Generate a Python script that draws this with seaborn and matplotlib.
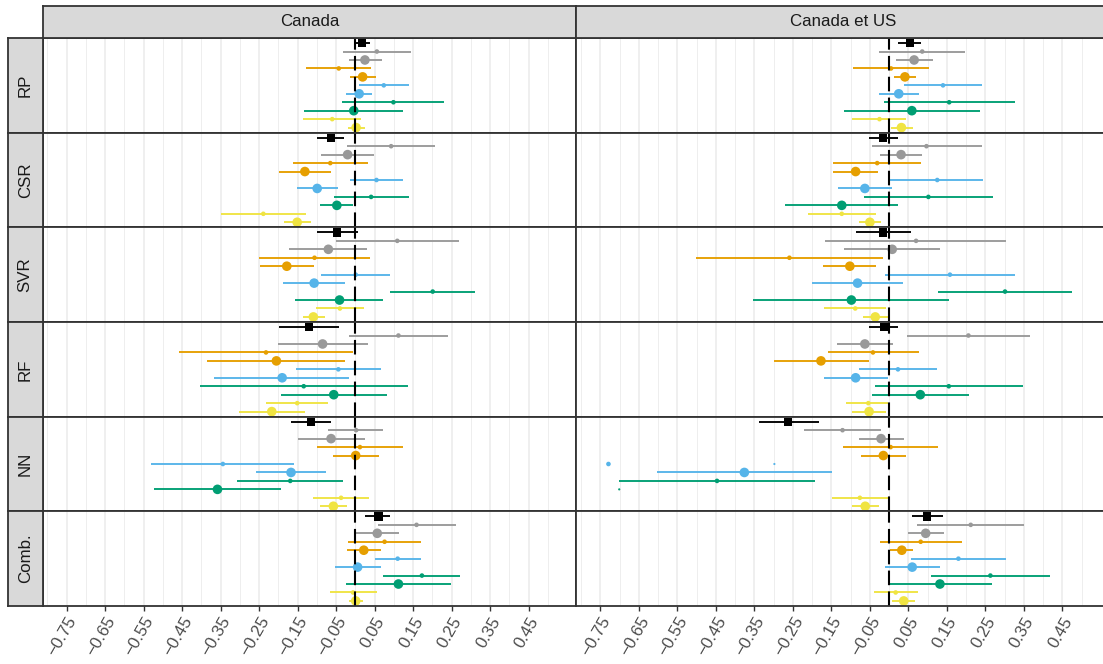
import numpy as np
import pandas as pd
import matplotlib
matplotlib.use("Agg")
import matplotlib.pyplot as plt
import seaborn as sns

# ---------------------------------------------------------------- data
regions = ["Canada", "Canada et US"]
methods = ["RP", "CSR", "SVR", "RF", "NN", "Comb."]

# one entry per horizontal row of a panel, top to bottom
series_ids = ["K", "G1", "G2", "O1", "O2", "B1", "B2", "V1", "V2", "J1", "J2"]
series_colors = ["#000000", "#999999", "#999999", "#E69F00", "#E69F00",
                 "#56B4E9", "#56B4E9", "#009E73", "#009E73", "#F0E442", "#F0E442"]
series_markers = ["s", "o", "o", "o", "o", "o", "o", "o", "o", "o", "o"]
series_sizes = [36, 11, 48, 11, 48, 11, 48, 11, 48, 11, 48]

# (estimate, lower, upper) for each series
ca_rp = [(0.018, -0.004, 0.037), (0.056, -0.033, 0.145), (0.025, -0.017, 0.069),
         (-0.043, -0.127, 0.042), (0.019, -0.014, 0.054), (0.074, 0.010, 0.140),
         (0.010, -0.024, 0.044), (0.099, -0.034, 0.231), (-0.004, -0.132, 0.124),
         (-0.060, -0.135, 0.016), (0.002, -0.019, 0.026)]
ca_csr = [(-0.063, -0.099, -0.029), (0.093, -0.021, 0.207), (-0.020, -0.089, 0.048),
          (-0.065, -0.161, 0.032), (-0.131, -0.198, -0.063), (0.055, -0.014, 0.123),
          (-0.099, -0.152, -0.045), (0.041, -0.055, 0.139), (-0.048, -0.091, -0.005),
          (-0.239, -0.348, -0.129), (-0.151, -0.186, -0.115)]
ca_svr = [(-0.048, -0.100, 0.006), (0.109, -0.049, 0.269), (-0.070, -0.172, 0.031),
          (-0.106, -0.250, 0.038), (-0.178, -0.247, -0.107), (0.001, -0.088, 0.091),
          (-0.107, -0.188, -0.026), (0.201, 0.089, 0.311), (-0.041, -0.156, 0.072),
          (-0.040, -0.101, 0.022), (-0.109, -0.137, -0.080)]
ca_rf = [(-0.120, -0.197, -0.042), (0.112, -0.016, 0.241), (-0.085, -0.201, 0.033),
         (-0.232, -0.458, -0.005), (-0.205, -0.385, -0.026), (-0.044, -0.155, 0.067),
         (-0.190, -0.367, -0.016), (-0.134, -0.404, 0.137), (-0.056, -0.194, 0.082),
         (-0.151, -0.231, -0.070), (-0.217, -0.303, -0.130)]
ca_nn = [(-0.115, -0.167, -0.063), (0.002, -0.070, 0.072), (-0.063, -0.149, 0.024),
         (0.012, -0.099, 0.125), (0.001, -0.058, 0.062), (-0.344, -0.530, -0.159),
         (-0.167, -0.259, -0.076), (-0.169, -0.307, -0.033), (-0.358, -0.522, -0.194),
         (-0.037, -0.109, 0.035), (-0.057, -0.093, -0.021)]
ca_comb = [(0.060, 0.026, 0.091), (0.159, 0.058, 0.262), (0.057, 0.001, 0.113),
           (0.076, -0.019, 0.171), (0.022, -0.021, 0.066), (0.110, 0.050, 0.171),
           (0.006, -0.054, 0.066), (0.173, 0.072, 0.272), (0.112, -0.024, 0.248),
           (-0.006, -0.065, 0.056), (0.001, -0.017, 0.020)]

us_rp = [(0.054, 0.024, 0.082), (0.086, -0.026, 0.197), (0.065, 0.018, 0.113),
         (0.005, -0.095, 0.104), (0.041, 0.012, 0.069), (0.140, 0.039, 0.242),
         (0.025, -0.026, 0.077), (0.156, -0.014, 0.327), (0.059, -0.117, 0.237),
         (-0.025, -0.096, 0.045), (0.032, 0.005, 0.062)]
us_csr = [(-0.016, -0.052, 0.023), (0.097, -0.045, 0.240), (0.031, -0.023, 0.085),
          (-0.031, -0.145, 0.084), (-0.087, -0.145, -0.029), (0.125, 0.003, 0.243),
          (-0.063, -0.132, 0.008), (0.102, -0.064, 0.269), (-0.123, -0.270, 0.022),
          (-0.123, -0.211, -0.034), (-0.050, -0.078, -0.021)]
us_svr = [(-0.016, -0.087, 0.057), (0.070, -0.166, 0.303), (0.008, -0.116, 0.131),
          (-0.259, -0.501, -0.017), (-0.102, -0.172, -0.033), (0.158, -0.010, 0.327),
          (-0.082, -0.200, 0.037), (0.301, 0.127, 0.475), (-0.098, -0.353, 0.156),
          (-0.088, -0.169, -0.008), (-0.036, -0.067, -0.004)]
us_rf = [(-0.012, -0.052, 0.024), (0.206, 0.046, 0.366), (-0.063, -0.136, 0.010),
         (-0.042, -0.158, 0.077), (-0.177, -0.299, -0.053), (0.023, -0.077, 0.124),
         (-0.087, -0.170, -0.003), (0.155, -0.037, 0.347), (0.081, -0.044, 0.207),
         (-0.054, -0.111, -0.003), (-0.052, -0.097, -0.008)]
us_nn = [(-0.263, -0.339, -0.183), (-0.121, -0.221, -0.022), (-0.021, -0.078, 0.039),
         (0.004, -0.121, 0.128), (-0.015, -0.072, 0.044), (-0.729, np.nan, np.nan),
         (-0.376, -0.603, -0.148), (-0.447, -0.701, -0.193), (np.nan, np.nan, np.nan),
         (-0.076, -0.149, -0.003), (-0.062, -0.097, -0.026)]
us_comb = [(0.098, 0.060, 0.139), (0.212, 0.073, 0.351), (0.095, 0.049, 0.143),
           (0.082, -0.024, 0.190), (0.033, 0.002, 0.063), (0.180, 0.057, 0.303),
           (0.060, -0.011, 0.132), (0.263, 0.109, 0.418), (0.132, 0.000, 0.268),
           (0.017, -0.040, 0.074), (0.038, 0.008, 0.068)]

# truncated interval ends left at the edge of the x range
stub_region = ["Canada et US", "Canada et US"]
stub_method = ["NN", "NN"]
stub_series = ["B1", "V2"]
stub_x = [-0.298, -0.701]

tick_values = [-0.75, -0.65, -0.55, -0.45, -0.35, -0.25, -0.15,
               -0.05, 0.05, 0.15, 0.25, 0.35, 0.45]
tick_labels = ["\u22120.75", "\u22120.65", "\u22120.55", "\u22120.45", "\u22120.35",
               "\u22120.25", "\u22120.15", "\u22120.05", "0.05", "0.15", "0.25",
               "0.35", "0.45"]

panels = {
    ("Canada", "RP"): ca_rp, ("Canada", "CSR"): ca_csr, ("Canada", "SVR"): ca_svr,
    ("Canada", "RF"): ca_rf, ("Canada", "NN"): ca_nn, ("Canada", "Comb."): ca_comb,
    ("Canada et US", "RP"): us_rp, ("Canada et US", "CSR"): us_csr,
    ("Canada et US", "SVR"): us_svr, ("Canada et US", "RF"): us_rf,
    ("Canada et US", "NN"): us_nn, ("Canada et US", "Comb."): us_comb,
}

rows = []
for (reg, met), vals in panels.items():
    for k, (est, lo, hi) in enumerate(vals):
        rows.append(dict(region=reg, method=met, series=series_ids[k],
                         row=k + 1, est=est, lo=lo, hi=hi))
df = pd.DataFrame(rows)

stubs = pd.DataFrame(dict(region=stub_region, method=stub_method,
                          series=stub_series, x=stub_x))
stubs["row"] = stubs["series"].map({s: i + 1 for i, s in enumerate(series_ids)})

palette = dict(zip(series_ids, series_colors))
markers = dict(zip(series_ids, series_markers))
sizes = dict(zip(series_ids, series_sizes))

# ---------------------------------------------------------------- style
sns.set_theme(style="white")
plt.rcParams["font.family"] = ["Liberation Sans", "DejaVu Sans"]

W, H, DPI = 1103, 664, 100
fig = plt.figure(figsize=(W / DPI, H / DPI), dpi=DPI)
fig.patch.set_facecolor("white")

x_left = 42.5          # left edge of the panel block (px)
px_per_unit = 385.0
xlim = (-0.8125, 0.574)
panel_w = (xlim[1] - xlim[0]) * px_per_unit
top = 38.0
panel_h = (606.0 - top) / len(methods)
strip_top = 6.0
strip_left = 8.0

border = "#333333"
strip_fill = "#D9D9D9"
grid_col = "#EBEBEB"


def fig_rect(x0, y0, w, h):
    return [x0 / W, 1 - (y0 + h) / H, w / W, h / H]


def strip(rect, text, rotation=0):
    sax = fig.add_axes(fig_rect(*rect))
    sax.set_facecolor(strip_fill)
    sax.set_xticks([])
    sax.set_yticks([])
    for sp in sax.spines.values():
        sp.set_color(border)
        sp.set_linewidth(1.3)
    sax.text(0.5, 0.5, text, transform=sax.transAxes, ha="center", va="center",
             rotation=rotation, fontsize=12.2, color="#1A1A1A")
    return sax


major = np.array(tick_values)
minor = np.round(np.arange(-0.80, 0.56, 0.1), 2)

for i, met in enumerate(methods):
    for j, reg in enumerate(regions):
        ax = fig.add_axes(fig_rect(x_left + j * panel_w, top + i * panel_h,
                                   panel_w, panel_h))
        ax.set_facecolor("white")
        ax.set_xlim(*xlim)
        ax.set_ylim(11.6, 0.4)

        ax.set_xticks(major)
        ax.set_xticks(minor, minor=True)
        ax.grid(which="major", axis="x", color=grid_col, lw=1.15, zorder=0)
        ax.grid(which="minor", axis="x", color=grid_col, lw=0.6, zorder=0)
        ax.grid(which="major", axis="y", visible=False)
        ax.set_yticks([])
        ax.tick_params(axis="x", which="minor", length=0)
        ax.set_axisbelow(True)

        sub = df[(df.region == reg) & (df.method == met)]
        seg = sub.dropna(subset=["lo", "hi"])
        for _, r in seg.iterrows():
            ax.hlines(r["row"], r["lo"], r["hi"], color=palette[r["series"]],
                      lw=1.35, capstyle="butt", zorder=2)

        pts = sub.dropna(subset=["est"])
        sns.scatterplot(data=pts, x="est", y="row", hue="series", style="series",
                        size="series", palette=palette, markers=markers,
                        sizes=sizes, hue_order=series_ids, style_order=series_ids,
                        size_order=series_ids, linewidth=0, legend=False,
                        ax=ax, zorder=3)

        st = stubs[(stubs.region == reg) & (stubs.method == met)]
        if len(st):
            ax.scatter(st["x"], st["row"], s=2.5,
                       c=[palette[s] for s in st["series"]], linewidths=0, zorder=3)

        ax.axvline(0, color="black", lw=1.5, dashes=(7, 3), zorder=5)

        ax.set_xlabel("")
        ax.set_ylabel("")
        for sp in ax.spines.values():
            sp.set_color(border)
            sp.set_linewidth(1.3)
            sp.set_zorder(6)

        if i == len(methods) - 1:
            ax.tick_params(axis="x", which="major", length=3.5, width=1.0,
                           color=border, pad=2.5, labelsize=12.2,
                           labelcolor="#4D4D4D", bottom=True)
            ax.set_xticklabels(tick_labels)
            for lab in ax.get_xticklabels():
                lab.set_rotation(60)
                lab.set_ha("right")
                lab.set_va("top")
                lab.set_rotation_mode("anchor")
        else:
            ax.tick_params(axis="x", which="major", length=0, labelbottom=False)

        if j == 0:
            strip((strip_left, top + i * panel_h, x_left - strip_left, panel_h),
                  met, rotation=90)

for j, reg in enumerate(regions):
    strip((x_left + j * panel_w, strip_top, panel_w, top - strip_top), reg)

fig.savefig("out.png", dpi=DPI, facecolor="white")
